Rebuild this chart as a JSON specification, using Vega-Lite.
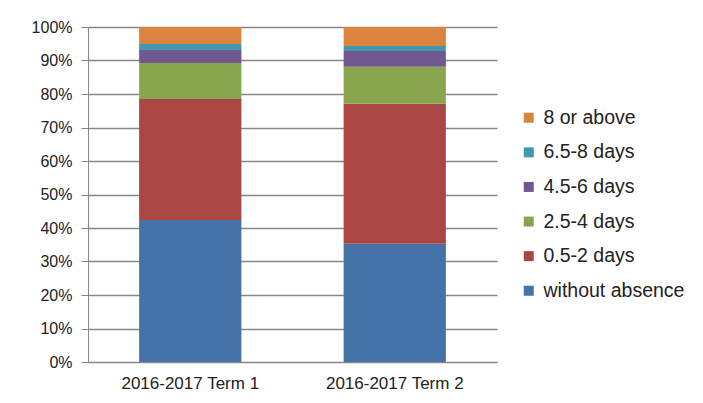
{
  "$schema": "https://vega.github.io/schema/vega-lite/v6.json",
  "width": 409,
  "height": 335,
  "autosize": {"type": "none"},
  "padding": {"left": 88, "top": 27, "right": 206, "bottom": 41},
  "background": "white",
  "config": {
    "view": {"stroke": null},
    "font": "Liberation Sans",
    "axis": {"labelColor": "#222222", "domainColor": "#878787", "tickColor": "#878787", "gridColor": "#878787", "labelFont": "Liberation Sans"},
    "legend": {"labelFont": "Liberation Sans"}
  },
  "data": {
    "values": [
      {"term": "2016-2017 Term 1", "days": "without absence", "k": 1, "share": 0.424},
      {"term": "2016-2017 Term 1", "days": "0.5-2 days", "k": 2, "share": 0.361},
      {"term": "2016-2017 Term 1", "days": "2.5-4 days", "k": 3, "share": 0.1075},
      {"term": "2016-2017 Term 1", "days": "4.5-6 days", "k": 4, "share": 0.039},
      {"term": "2016-2017 Term 1", "days": "6.5-8 days", "k": 5, "share": 0.018},
      {"term": "2016-2017 Term 1", "days": "8 or above", "k": 6, "share": 0.0505},
      {"term": "2016-2017 Term 2", "days": "without absence", "k": 1, "share": 0.353},
      {"term": "2016-2017 Term 2", "days": "0.5-2 days", "k": 2, "share": 0.418},
      {"term": "2016-2017 Term 2", "days": "2.5-4 days", "k": 3, "share": 0.11},
      {"term": "2016-2017 Term 2", "days": "4.5-6 days", "k": 4, "share": 0.047},
      {"term": "2016-2017 Term 2", "days": "6.5-8 days", "k": 5, "share": 0.015},
      {"term": "2016-2017 Term 2", "days": "8 or above", "k": 6, "share": 0.057}
    ]
  },
  "mark": {"type": "bar"},
  "encoding": {
    "x": {
      "field": "term", "type": "nominal",
      "scale": {"paddingInner": 0.5, "paddingOuter": 0.25},
      "axis": {"title": null, "labelAngle": 0, "labelFontSize": 17, "labelPadding": 13, "ticks": false, "domainColor": "#878787", "grid": false}
    },
    "y": {
      "field": "share", "type": "quantitative", "stack": "zero",
      "scale": {"domain": [0, 1], "nice": false},
      "axis": {"title": null, "format": ".0%", "values": [0, 0.1, 0.2, 0.3, 0.4, 0.5, 0.6, 0.7, 0.8, 0.9, 1], "labelFontSize": 16, "tickSize": 7, "labelPadding": 9, "grid": true, "gridWidth": 1.5}
    },
    "order": {"field": "k", "type": "quantitative", "sort": "ascending"},
    "color": {
      "field": "days", "type": "nominal",
      "scale": {
        "domain": ["8 or above", "6.5-8 days", "4.5-6 days", "2.5-4 days", "0.5-2 days", "without absence"],
        "range": ["#DB843D", "#4198AF", "#71588F", "#89A54E", "#AA4643", "#4572A7"]
      },
      "legend": {
        "title": null, "orient": "none", "legendX": 431, "legendY": 81,
        "symbolType": "square", "symbolSize": 100, "symbolStrokeWidth": 0,
        "labelFontSize": 19.5, "labelColor": "#222222", "labelOffset": 5, "rowPadding": 13.6, "padding": 0
      }
    }
  }
}
